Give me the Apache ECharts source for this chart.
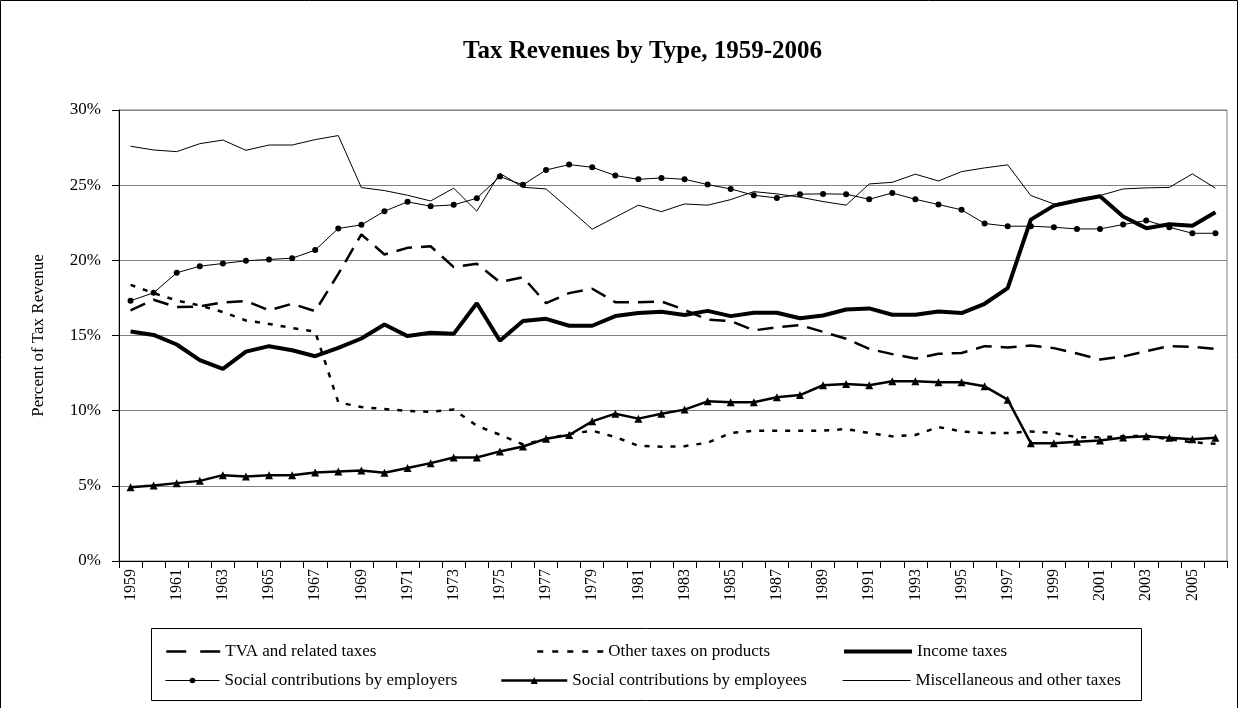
<!DOCTYPE html>
<html>
<head>
<meta charset="utf-8">
<script src="https://cdn.jsdelivr.net/npm/echarts@6/dist/echarts.min.js"></script>
<style>
html,body{margin:0;padding:0;background:#fff;}
#chart{width:1238px;height:708px;}
</style>
</head>
<body>
<div id="chart"></div>
<script>
var years = [];
for (var y = 1959; y <= 2006; y++) years.push(String(y));

var tva = [16.67,17.38,16.89,16.93,17.2,17.29,16.67,17.11,16.62,19.1,21.72,20.39,20.83,20.94,19.55,19.77,18.55,18.88,17.15,17.82,18.11,17.22,17.22,17.26,16.71,16.05,15.96,15.34,15.55,15.7,15.24,14.78,14.11,13.76,13.47,13.78,13.84,14.29,14.2,14.33,14.16,13.8,13.4,13.6,13.96,14.3,14.25,14.1];
var otherProducts = [18.37,17.82,17.33,17.0,16.56,16.0,15.77,15.5,15.25,10.55,10.24,10.11,9.98,9.93,10.07,9.0,8.4,7.75,8.1,8.45,8.67,8.24,7.67,7.6,7.64,7.87,8.51,8.67,8.67,8.67,8.67,8.78,8.51,8.29,8.38,8.91,8.62,8.51,8.51,8.62,8.51,8.24,8.24,8.29,8.33,8.1,7.9,7.8];
var income = [15.27,15.04,14.4,13.36,12.78,13.93,14.29,14.02,13.62,14.18,14.8,15.73,14.96,15.18,15.11,17.15,14.65,15.96,16.11,15.65,15.65,16.29,16.49,16.58,16.36,16.64,16.29,16.51,16.51,16.15,16.33,16.73,16.8,16.38,16.38,16.6,16.49,17.11,18.15,22.71,23.64,23.98,24.26,22.91,22.14,22.4,22.3,23.2];
var employers = [17.31,17.84,19.17,19.61,19.79,19.97,20.06,20.14,20.68,22.12,22.36,23.27,23.89,23.6,23.69,24.13,25.57,25.02,26.01,26.37,26.19,25.64,25.39,25.48,25.39,25.04,24.75,24.33,24.15,24.4,24.42,24.4,24.06,24.48,24.06,23.71,23.36,22.45,22.27,22.27,22.2,22.09,22.09,22.38,22.65,22.2,21.8,21.8];
var employees = [4.91,5.02,5.18,5.33,5.71,5.62,5.71,5.71,5.89,5.96,6.02,5.87,6.18,6.51,6.89,6.89,7.29,7.62,8.13,8.38,9.29,9.8,9.47,9.8,10.07,10.62,10.56,10.56,10.89,11.04,11.69,11.78,11.69,11.96,11.96,11.89,11.89,11.62,10.73,7.84,7.84,7.93,8.02,8.22,8.29,8.2,8.1,8.2];
var misc = [27.59,27.34,27.23,27.76,28.0,27.32,27.67,27.67,28.03,28.3,24.84,24.64,24.33,23.95,24.8,23.27,25.79,24.86,24.75,23.42,22.07,22.87,23.67,23.24,23.75,23.67,24.04,24.57,24.42,24.2,23.91,23.67,25.08,25.19,25.73,25.28,25.9,26.15,26.35,24.31,23.75,24.02,24.31,24.75,24.82,24.85,25.75,24.8];

var seriesNames = ['TVA and related taxes','Other taxes on products','Income taxes','Social contributions by employers','Social contributions by employees','Miscellaneous and other taxes'];

var FONT = 'Liberation Serif, Times New Roman, serif';
var chart = echarts.init(document.getElementById('chart'), null, {renderer:'canvas'});

var lineStyles = [
  {color: '#000', width: 2.5, type: [16, 9]},
  {color: '#000', width: 2.5, type: [5, 8]},
  {color: '#000', width: 4},
  {color: '#000', width: 1},
  {color: '#000', width: 2.5},
  {color: '#000', width: 1}
];
var legendLineStyles = [
  {color: '#000', width: 2.5, type: [20, 14]},
  {color: '#000', width: 2.5, type: [6, 9]},
  {color: '#000', width: 4},
  {color: '#000', width: 1},
  {color: '#000', width: 2.5},
  {color: '#000', width: 1}
];

function legendItem(idx, left, top, w, h, hideSymbol) {
  var d = {name: seriesNames[idx], lineStyle: legendLineStyles[idx]};
  if (hideSymbol) d.itemStyle = {opacity: 0};
  return {
    data: [d],
    left: left,
    top: top,
    padding: 0,
    itemWidth: w,
    itemHeight: h,
    selectedMode: false,
    textStyle: {fontFamily: FONT, fontSize: 17, color: '#000'}
  };
}

var option = {
  backgroundColor: '#fff',
  animation: false,
  title: {
    text: 'Tax Revenues by Type, 1959-2006',
    left: 458,
    top: 34,
    textStyle: {fontFamily: FONT, fontSize: 25, fontWeight: 'bold', color: '#000'}
  },
  legend: [
    legendItem(0, 165, 643, 54, 10, true),
    legendItem(1, 536, 643, 66, 10, true),
    legendItem(2, 842, 643, 68, 10, true),
    legendItem(3, 165, 672, 54, 7, false),
    legendItem(4, 500, 672, 66, 9, false),
    legendItem(5, 842, 672, 68, 10, true)
  ],
  graphic: [
    {type:'rect', shape:{x:151.5, y:628.5, width:990, height:72}, style:{fill:'none', stroke:'#000', lineWidth:1}, silent:true},
    {type:'polyline', shape:{points:[[0.5,708],[0.5,0.5],[1237.5,0.5],[1237.5,708]]}, style:{fill:'none', stroke:'#000', lineWidth:1}, silent:true}
  ],
  grid: {
    left: 119, right: 11, top: 110, bottom: 147,
    show: true, borderColor: '#808080', borderWidth: 1, backgroundColor: 'transparent'
  },
  xAxis: {
    type: 'category',
    data: years,
    boundaryGap: true,
    axisLine: {lineStyle: {color: '#000', width: 1}},
    axisTick: {show: true, interval: 0, length: 7, lineStyle: {color: '#000'}},
    axisLabel: {interval: 1, rotate: 90, margin: 8, fontFamily: FONT, fontSize: 16, color: '#000'},
    splitLine: {show: false}
  },
  yAxis: {
    type: 'value',
    min: 0, max: 30, interval: 5,
    name: 'Percent of Tax Revenue',
    nameLocation: 'middle',
    nameGap: 72,
    nameRotate: 90,
    nameTextStyle: {fontFamily: FONT, fontSize: 17, color: '#000'},
    axisLine: {show: true, lineStyle: {color: '#000', width: 1}},
    axisTick: {show: true, length: 7, lineStyle: {color: '#000'}},
    axisLabel: {formatter: '{value}%', margin: 18, fontFamily: FONT, fontSize: 17, color: '#000'},
    splitLine: {show: true, lineStyle: {color: '#808080', width: 1}}
  },
  series: [
    {name: seriesNames[0], type: 'line', data: tva, symbol: 'none', z: 3,
     lineStyle: lineStyles[0], itemStyle: {color: '#000'}},
    {name: seriesNames[1], type: 'line', data: otherProducts, symbol: 'none', z: 3,
     lineStyle: lineStyles[1], itemStyle: {color: '#000'}},
    {name: seriesNames[2], type: 'line', data: income, symbol: 'none', z: 4,
     lineStyle: lineStyles[2], itemStyle: {color: '#000'}},
    {name: seriesNames[3], type: 'line', data: employers, symbol: 'circle', symbolSize: 6, showSymbol: true, z: 3,
     lineStyle: lineStyles[3], itemStyle: {color: '#000'}},
    {name: seriesNames[4], type: 'line', data: employees, symbol: 'triangle', symbolSize: 8, showSymbol: true, z: 3,
     lineStyle: lineStyles[4], itemStyle: {color: '#000'}},
    {name: seriesNames[5], type: 'line', data: misc, symbol: 'none', z: 2,
     lineStyle: lineStyles[5], itemStyle: {color: '#000'}}
  ]
};
chart.setOption(option);
</script>
</body>
</html>
